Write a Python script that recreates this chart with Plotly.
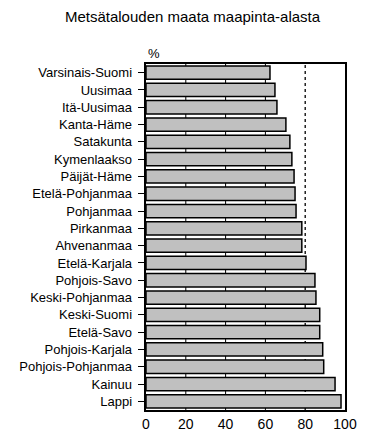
import plotly.graph_objects as go

regions = ["Varsinais-Suomi", "Uusimaa", "Itä-Uusimaa", "Kanta-Häme", "Satakunta",
           "Kymenlaakso", "Päijät-Häme", "Etelä-Pohjanmaa", "Pohjanmaa", "Pirkanmaa",
           "Ahvenanmaa", "Etelä-Karjala", "Pohjois-Savo", "Keski-Pohjanmaa", "Keski-Suomi",
           "Etelä-Savo", "Pohjois-Karjala", "Pohjois-Pohjanmaa", "Kainuu", "Lappi"]
values = [62.3, 64.8, 65.8, 70.3, 72.3, 73.3, 74.4, 74.9, 75.4, 78.3,
          78.3, 80.4, 84.9, 85.4, 87.3, 87.3, 88.8, 89.3, 95.0, 98.0]
x_ticks = [0, 20, 40, 60, 80, 100]
grid_vals = [20, 40, 60]
reference = 80

FONT = "Liberation Sans, Arial, sans-serif"

# page body has an 8px default margin; the figure is sized to fit the window
W, H = 375, 428

fig = go.Figure()
fig.add_trace(go.Bar(
    x=values, y=regions, orientation="h",
    marker=dict(color="#c0c0c0", line=dict(color="black", width=1.5)),
    hoverinfo="skip",
))

for g in grid_vals:
    fig.add_shape(type="line", xref="x", yref="paper", x0=g, x1=g, y0=0, y1=1,
                  line=dict(color="black", width=1), layer="below")
fig.add_shape(type="line", xref="x", yref="paper", x0=reference, x1=reference, y0=0, y1=1,
              line=dict(color="black", width=1.3, dash="3px,3px"), layer="below")

fig.update_layout(
    width=W, height=H,
    margin=dict(l=138, r=38, t=56, b=26),
    paper_bgcolor="white", plot_bgcolor="white",
    bargap=0.23,
    showlegend=False,
    font=dict(family=FONT, color="black", size=12),
    title=dict(text="Metsätalouden maata maapinta-alasta", x=0.492, xanchor="center",
               xref="container", y=1 - 9 / H, yanchor="middle", font=dict(size=15, family=FONT)),
    annotations=[dict(text="%", xref="paper", yref="paper", x=0.0, y=1.0,
                      xanchor="left", yanchor="bottom", showarrow=False,
                      font=dict(size=13, family=FONT), yshift=1, xshift=0)],
)
fig.update_xaxes(range=[0, 100], tickvals=x_ticks, showgrid=False, zeroline=False,
                 showline=True, linecolor="black", linewidth=1.5, mirror=True,
                 ticks="", tickfont=dict(size=14), automargin=False)
fig.update_yaxes(autorange="reversed", showgrid=False, showline=True, linecolor="black",
                 linewidth=1.5, mirror=True, ticks="outside", ticklen=6, tickcolor="black",
                 tickwidth=1, tickfont=dict(size=13), ticksuffix=" ", automargin=False)

fig.write_html("out.html")
